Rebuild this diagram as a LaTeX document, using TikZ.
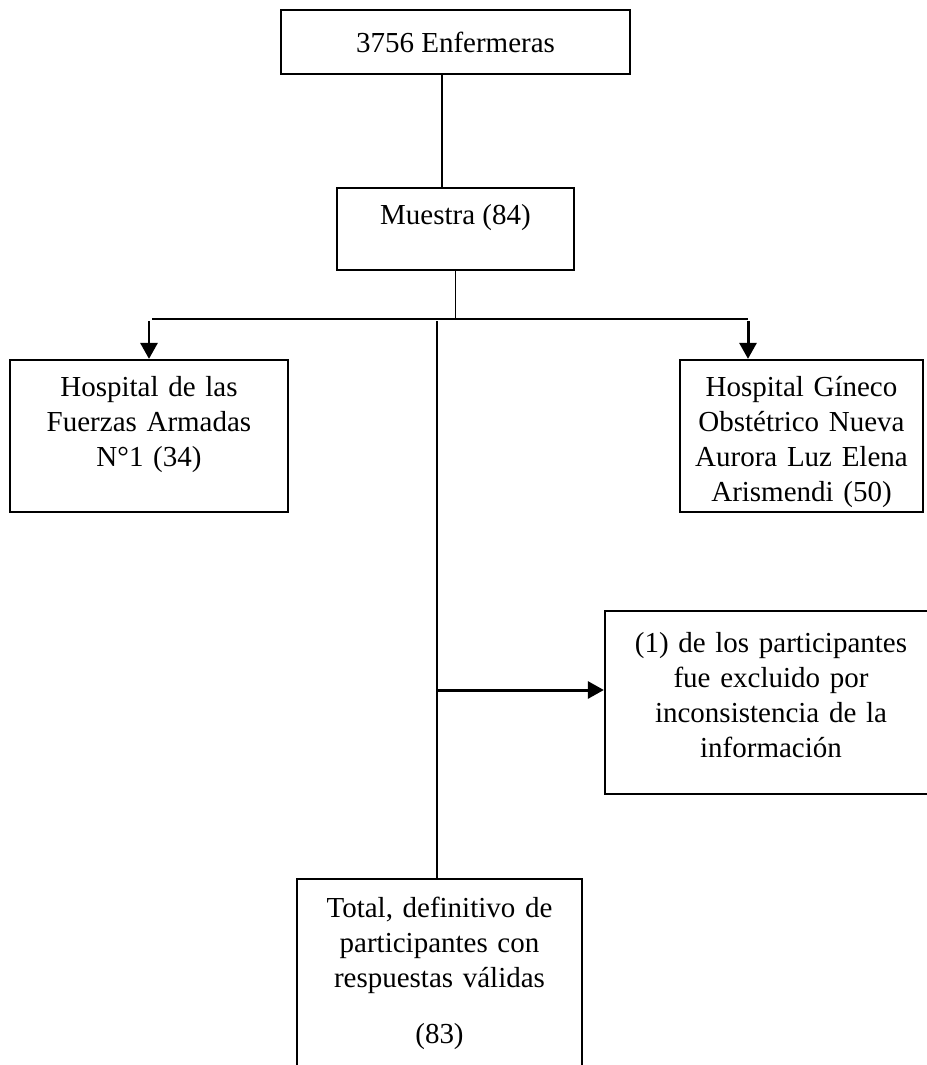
\documentclass[tikz,border=0pt]{standalone}
\usepackage{fontspec}
\setmainfont{Liberation Serif}
\usepackage{tikz}
\usetikzlibrary{arrows.meta, positioning, calc}
\tikzstyle{box} = [rectangle, draw=black, line width=1.3pt, inner sep=0pt,
text centered, align=center, font=\fontsize{16.5}{19.9}\selectfont]
\tikzstyle{arrow} = [line width=1.7pt, -{Triangle[length=0.32cm, width=0.34cm]}]
\tikzstyle{line} = [line width=1.1pt, -]

\begin{document}
\begin{tikzpicture}

      \useasboundingbox (0,0) rectangle (18.52,-21.3);

      \node (enf) [box, minimum width=6.98cm, minimum height=1.28cm,
        text height=0.5cm, text depth=0.08cm] at (9.11,-0.84) {3756 Enfermeras};

      \node (mue) [box, minimum width=4.74cm, minimum height=1.64cm,
        text height=0.5cm, text depth=0.68cm, below=2.24cm of enf] {Muestra (84)};

      \node (hos1) [box, minimum width=5.56cm, minimum height=3.04cm, text width=5.3cm,
        text height=0.5cm, text depth=2.08cm] at (2.98,-8.72)
        {Hospital de las\\ Fuerzas Armadas\\ N°1 (34)};
      \node (hos2) [box, minimum width=4.86cm, minimum height=3.04cm, text width=4.7cm,
        text height=0.5cm, text depth=2.08cm] at (16.03,-8.72)
        {Hospital Gíneco\\ Obstétrico Nueva\\ Aurora Luz Elena\\ Arismendi (50)};

      \node (exc) [box, minimum width=6.64cm, minimum height=3.66cm, text width=6.4cm,
        text height=0.5cm, text depth=2.5cm] at (15.42,-14.05)
        {(1) de los participantes\\ fue excluido por\\ inconsistencia de la\\ información};

      \node (tot) [box, minimum width=5.7cm, minimum height=3.92cm, text width=5.5cm,
        text height=0.5cm, text depth=2.88cm] at (8.79,-19.54)
        {Total, definitivo de\\ participantes con\\ respuestas válidas\\[0.42cm] (83)};

      % \draw[help lines] (0,0) grid (18,-21);

      \coordinate (B) at ([yshift=-0.96cm]mue.south);
      \coordinate (R) at ([xshift=-1.07cm]hos2.north);
      \coordinate (C) at ([xshift=-0.05cm]tot.north);
      \coordinate (E) at ([yshift=0.25cm]exc.west);

      \draw [line] ([xshift=-0.27cm]enf.south) -- ([xshift=-0.27cm]enf.south |- mue.north);
      \draw [line] (mue.south) -- (B);
      \draw [line] ([xshift=0.06cm]B -| hos1.north) -- (B -| R);

      \draw [arrow] ([yshift=-0.04cm]B -| hos1.north) -- (hos1.north);
      \draw [arrow] ([yshift=-0.04cm]B -| R) -- (R);

      \draw [line] ([yshift=-0.04cm]B -| C) -- (C);
      \draw [arrow] (C |- E) -- (E);

\end{tikzpicture}
\end{document}
